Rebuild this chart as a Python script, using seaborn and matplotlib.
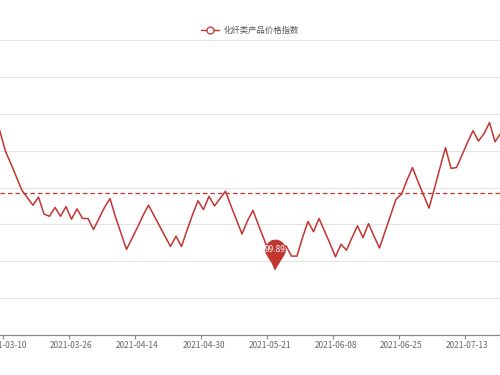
import numpy as np
import pandas as pd
import seaborn as sns
import matplotlib.pyplot as plt
from matplotlib.lines import Line2D
from matplotlib.path import Path

series_name = '化纤类产品价格指数'
tick_labels = ['2021-03-10', '2021-03-26', '2021-04-14', '2021-04-30',
               '2021-05-21', '2021-06-08', '2021-06-25', '2021-07-13']
label_step = 12   # one date label every 12 trading days
lead_points = 2   # points drawn before the first labelled date

price_index = [101.98, 101.76,
               101.49, 101.32, 101.14, 100.96, 100.86, 100.76, 100.87, 100.64, 100.61, 100.73, 100.61, 100.74,
               100.57, 100.71, 100.58, 100.58, 100.43, 100.58, 100.73, 100.85, 100.60, 100.38, 100.16, 100.31,
               100.46, 100.62, 100.76, 100.62, 100.48, 100.34, 100.20, 100.34, 100.20, 100.42, 100.63, 100.82,
               100.70, 100.88, 100.75, 100.85, 100.95, 100.75, 100.56, 100.37, 100.55, 100.69, 100.49, 100.30,
               100.10, 99.89, 100.13, 100.21, 100.07, 100.07, 100.32, 100.54, 100.40, 100.58, 100.41, 100.24,
               100.06, 100.23, 100.15, 100.32, 100.48, 100.32, 100.51, 100.34, 100.18, 100.40, 100.62, 100.84,
               100.91, 101.10, 101.27, 101.08, 100.90, 100.72, 100.99, 101.27, 101.54, 101.26, 101.27, 101.44,
               101.61, 101.77, 101.63, 101.73, 101.88, 101.62, 101.73, 101.80]
average_value = 100.93

RED = '#c23531'

sns.set_theme(style='white')
plt.rcParams['font.family'] = ['Noto Sans CJK SC', 'DejaVu Sans']

df = pd.DataFrame({'pos': np.arange(len(price_index)) - lead_points,
                   'value': price_index})

fig = plt.figure(figsize=(5, 3.75), dpi=100)
ax = fig.add_axes([0, 1 - 335 / 375, 1, (335 - 40) / 375])

sns.lineplot(data=df, x='pos', y='value', color=RED, linewidth=1.1, ax=ax, legend=False, zorder=3)

# average mark line
ax.axhline(average_value, color=RED, lw=0.9, dashes=(3.5, 2.5), zorder=2)

# min pin marker (echarts style)
r, c = 1.0, 1.9
a0 = np.degrees(np.arccos(r / c))
ang = np.radians(np.linspace(-90 + a0, 270 - a0, 60))
verts = [(0, 0)] + [(r * np.cos(t), c + r * np.sin(t)) for t in ang] + [(0, 0)]
pin = Path(verts, closed=True)
i_min = df['value'].idxmin()
x_min, v_min = df.loc[i_min, 'pos'], df.loc[i_min, 'value']
ax.plot([x_min], [v_min], marker=pin, ms=43, color=RED, mec='none', ls='none', zorder=5)
ax.annotate(f'{v_min:.2f}', xy=(x_min, v_min), xytext=(0, 14), textcoords='offset points',
            ha='center', va='center', color='white', fontsize=6, zorder=6)

ax.set_xlim(-1, 500 / 5.5 - 1)
ax.set_ylim(99, 103)
ax.set_yticks(np.arange(99, 103.01, 0.5))
ax.yaxis.grid(True, color='#e3e3e3', lw=0.8)
ax.set_yticklabels([])
ax.tick_params(axis='y', length=0)

label_pos = np.arange(len(tick_labels)) * label_step
ax.set_xticks(label_pos)
ax.set_xticklabels(tick_labels, fontsize=6, color='#666666')
ax.set_xticks(label_pos - 0.5, minor=True)
ax.tick_params(axis='x', which='major', length=0, pad=4)
ax.tick_params(axis='x', which='minor', length=3, width=0.8, color='#888888', direction='out', bottom=True)
ax.set_xlabel('')
ax.set_ylabel('')

for s in ['left', 'right', 'top']:
    ax.spines[s].set_visible(False)
ax.spines['bottom'].set_color('#888888')
ax.spines['bottom'].set_linewidth(0.9)

handle = Line2D([], [], color=RED, lw=1, marker='o', ms=5, mfc='white', mec=RED, mew=0.9)
leg = fig.legend(handles=[handle], labels=[series_name], loc='center',
                 bbox_to_anchor=(0.5, 1 - 30 / 375), frameon=False, fontsize=6,
                 handlelength=2.2, handletextpad=0.5)
for t in leg.get_texts():
    t.set_color('#555555')

fig.savefig('out.png', dpi=100, facecolor='white')
